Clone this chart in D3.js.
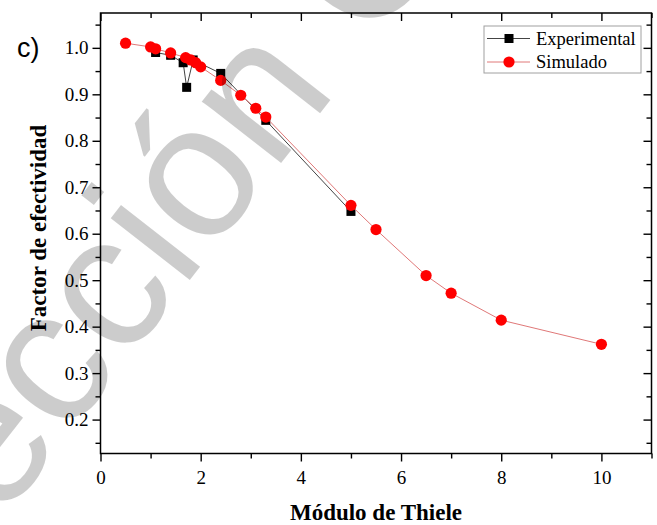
<!DOCTYPE html>
<html>
<head>
<meta charset="utf-8">
<script src="https://cdn.jsdelivr.net/npm/d3@7"></script>
<style>
  html, body { margin: 0; padding: 0; background: #fff; }
  svg { display: block; }
</style>
</head>
<body>
<svg id="chart" width="657" height="525"></svg>
<script>
// Effectiveness factor vs Thiele modulus
const simX = [0.5, 1.0, 1.1, 1.4, 1.7, 1.8, 1.9, 2.0, 2.4, 2.8, 3.1, 3.3, 5.0, 5.5, 6.5, 7.0, 8.0, 10.0];
const simY = [1.010, 1.002, 0.998, 0.989, 0.979, 0.974, 0.968, 0.959, 0.930, 0.898, 0.870, 0.851, 0.661, 0.609, 0.510, 0.472, 0.414, 0.362];

const expX = [1.1, 1.4, 1.65, 1.72, 1.85, 2.4, 3.3, 5.0];
const expY = [0.990, 0.984, 0.968, 0.915, 0.974, 0.945, 0.844, 0.648];

const xTicks = [0, 2, 4, 6, 8, 10];
const xMinor = [1, 3, 5, 7, 9, 11];
const yTicks = [0.2, 0.3, 0.4, 0.5, 0.6, 0.7, 0.8, 0.9, 1.0];
const yMinor = [0.15, 0.25, 0.35, 0.45, 0.55, 0.65, 0.75, 0.85, 0.95, 1.05];

const seriesNames = ["Experimental", "Simulado"];

const svg = d3.select("#chart");
const L = 100.5, R = 651.5, T = 13, B = 453.5;

const x = d3.scaleLinear().domain([0, 11]).range([L, R]);
const y = d3.scaleLinear().domain([0.127, 1.075]).range([B, T]);

const serif = "'Liberation Serif', 'Times New Roman', serif";
const sans = "'Liberation Sans', Arial, sans-serif";

// bottom axis (outward ticks)
svg.append("g").attr("transform", `translate(0,${B})`)
  .call(d3.axisBottom(x).tickValues(xTicks).tickSize(8).tickPadding(9).tickFormat(d3.format("d")));
svg.append("g").attr("transform", `translate(0,${B})`)
  .call(d3.axisBottom(x).tickValues(xMinor).tickSize(5).tickFormat(""));

// left axis (outward ticks)
svg.append("g").attr("transform", `translate(${L},0)`)
  .call(d3.axisLeft(y).tickValues(yTicks).tickSize(8).tickPadding(4).tickFormat(d3.format(".1f")));
svg.append("g").attr("transform", `translate(${L},0)`)
  .call(d3.axisLeft(y).tickValues(yMinor).tickSize(5).tickFormat(""));

// mirrored top and right axes (inward ticks)
svg.append("g").attr("transform", `translate(0,${T})`)
  .call(d3.axisBottom(x).tickValues(xTicks).tickSize(8).tickFormat(""));
svg.append("g").attr("transform", `translate(0,${T})`)
  .call(d3.axisBottom(x).tickValues(xMinor).tickSize(5).tickFormat(""));
svg.append("g").attr("transform", `translate(${R},0)`)
  .call(d3.axisLeft(y).tickValues(yTicks).tickSize(8).tickFormat(""));
svg.append("g").attr("transform", `translate(${R},0)`)
  .call(d3.axisLeft(y).tickValues(yMinor).tickSize(5).tickFormat(""));

svg.selectAll(".domain").remove();
svg.selectAll(".tick line").attr("stroke", "#000").attr("stroke-width", 1.4);
svg.selectAll(".tick text").attr("font-family", serif).attr("font-size", 19).attr("fill", "#000");

// frame
svg.append("rect").attr("x", L).attr("y", T).attr("width", R - L).attr("height", B - T)
  .attr("fill", "none").attr("stroke", "#000").attr("stroke-width", 1.5);

// series
const line = d3.line().x(d => x(d[0])).y(d => y(d[1]));
const expData = expX.map((v, i) => [v, expY[i]]);
const simData = simX.map((v, i) => [v, simY[i]]);

svg.append("path").datum(expData).attr("d", line)
  .attr("fill", "none").attr("stroke", "#444").attr("stroke-width", 1);
svg.selectAll(".sq").data(expData).enter().append("rect")
  .attr("x", d => x(d[0]) - 4.5).attr("y", d => y(d[1]) - 4.5)
  .attr("width", 9).attr("height", 9).attr("fill", "#000");

svg.append("path").datum(simData).attr("d", line)
  .attr("fill", "none").attr("stroke", "#e07878").attr("stroke-width", 1);
svg.selectAll(".ci").data(simData).enter().append("circle")
  .attr("cx", d => x(d[0])).attr("cy", d => y(d[1])).attr("r", 5.6).attr("fill", "#ff0000");

// legend
const lg = svg.append("g");
lg.append("rect").attr("x", 484).attr("y", 26).attr("width", 157).attr("height", 47)
  .attr("fill", "#fff").attr("stroke", "#a0a0a0").attr("stroke-width", 1);
const rows = [
  { name: seriesNames[0], stroke: "#444", mark: "sq", cy: 38.5 },
  { name: seriesNames[1], stroke: "#e07878", mark: "ci", cy: 62 }
];
rows.forEach(r => {
  lg.append("line").attr("x1", 487).attr("x2", 530).attr("y1", r.cy).attr("y2", r.cy)
    .attr("stroke", r.stroke).attr("stroke-width", 1);
  if (r.mark === "sq") {
    lg.append("rect").attr("x", 509 - 4.5).attr("y", r.cy - 4.5).attr("width", 9).attr("height", 9).attr("fill", "#000");
  } else {
    lg.append("circle").attr("cx", 509).attr("cy", r.cy).attr("r", 5.6).attr("fill", "#ff0000");
  }
  lg.append("text").attr("x", 536).attr("y", r.cy).attr("dy", "0.35em")
    .attr("font-family", serif).attr("font-size", 18.5).attr("fill", "#000").text(r.name);
});

// axis titles
svg.append("text").attr("x", (L + R) / 2).attr("y", 520).attr("text-anchor", "middle")
  .attr("font-family", serif).attr("font-weight", "bold").attr("font-size", 23).text("Módulo de Thiele");
svg.append("text").attr("transform", `translate(46,228) rotate(-90)`).attr("text-anchor", "middle")
  .attr("font-family", serif).attr("font-weight", "bold").attr("font-size", 23).text("Factor de efectividad");

// panel label
svg.append("text").attr("x", 17).attr("y", 57).attr("font-family", sans).attr("font-size", 27).text("c)");

// diagonal watermark
svg.append("text").attr("transform", "translate(0,523) rotate(-52)")
  .attr("font-family", sans).attr("font-size", 190).attr("fill", "#000").attr("fill-opacity", 0.2)
  .text("ección C");
</script>
</body>
</html>
